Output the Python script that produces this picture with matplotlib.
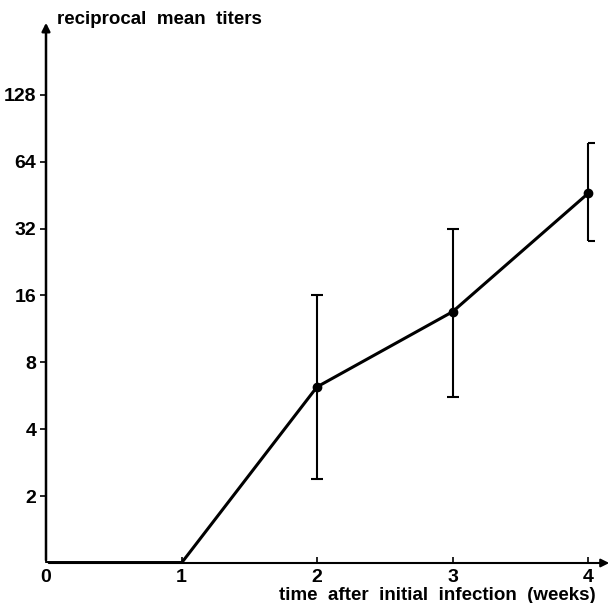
import matplotlib.pyplot as plt
import numpy as np

weeks = [0, 1, 2, 3, 4]
titers = [1, 1, 6.2, 13.5, 46]
err_low = [1, 1, 2.4, 5.6, 28]
err_high = [1, 1, 16, 32, 78]
ytick_vals = [2, 4, 8, 16, 32, 64, 128]

plt.rcParams['font.family'] = ['Liberation Sans', 'DejaVu Sans']
plt.rcParams['font.weight'] = 'bold'

W, H = 613, 603
fig = plt.figure(figsize=(W / 100, H / 100), dpi=100)
# axes placed in pixel terms: x=0 at px 46, y=1 at px 563
left, right, bottom, top = 46, 605, 563, 20
ax = fig.add_axes([left / W, (H - bottom) / H, (right - left) / W, (bottom - top) / H])

ax.set_yscale('log', base=2)
ax.set_xlim(0, (right - left) / 135.5)
ax.set_ylim(1, 2 ** ((bottom - top) / 66.9))

ax.plot(weeks, titers, color='black', lw=2.2, solid_joinstyle='round')
ax.plot(weeks[:2], titers[:2], color='black', lw=3.5, solid_capstyle='butt')
ax.plot(weeks[2:], titers[2:], 'o', color='black', ms=6)

# error bars, weeks 2 and 3 with small symmetric caps
for i in [2, 3]:
    ax.errorbar(weeks[i], titers[i],
                yerr=[[titers[i] - err_low[i]], [err_high[i] - titers[i]]],
                fmt='none', ecolor='black', elinewidth=1.5, capsize=4, capthick=1.5)
# week 4 drawn as a bracket
ax.vlines(weeks[4], err_low[4], err_high[4], color='black', lw=1.5)
ax.hlines([err_low[4], err_high[4]], weeks[4], weeks[4] + 0.05, color='black', lw=1.5)

for s in ax.spines.values():
    s.set_visible(False)
# axis lines with arrows
ax.annotate('', xy=(1.0 + 7 / (right - left), 0), xytext=(0, 0), xycoords='axes fraction',
            arrowprops=dict(arrowstyle='-|>', color='black', lw=1.5, mutation_scale=12),
            annotation_clip=False)
ax.annotate('', xy=(0, 1.0), xytext=(0, 0), xycoords='axes fraction',
            arrowprops=dict(arrowstyle='-|>', color='black', lw=1.8, mutation_scale=12),
            annotation_clip=False)

ax.set_xticks(weeks)
ax.set_xticklabels([str(w) for w in weeks], fontsize=14, fontweight='bold')
ax.tick_params(axis='x', direction='in', length=4, width=1.2, pad=4)
ax.set_yticks(ytick_vals)
ax.set_yticklabels([str(v) for v in ytick_vals], fontsize=14, fontweight='bold')
ax.tick_params(axis='y', direction='out', length=4, width=1.2, pad=3)
ax.minorticks_off()

fig.text(57 / W, 1 - 20 / H, 'reciprocal  mean  titers', fontsize=13.5, fontweight='bold',
         ha='left', va='center')
fig.text(596 / W, 1 - 596 / H, 'time  after  initial  infection  (weeks)', fontsize=13.5,
         fontweight='bold', ha='right', va='center')

fig.savefig('out.png', dpi=100)
